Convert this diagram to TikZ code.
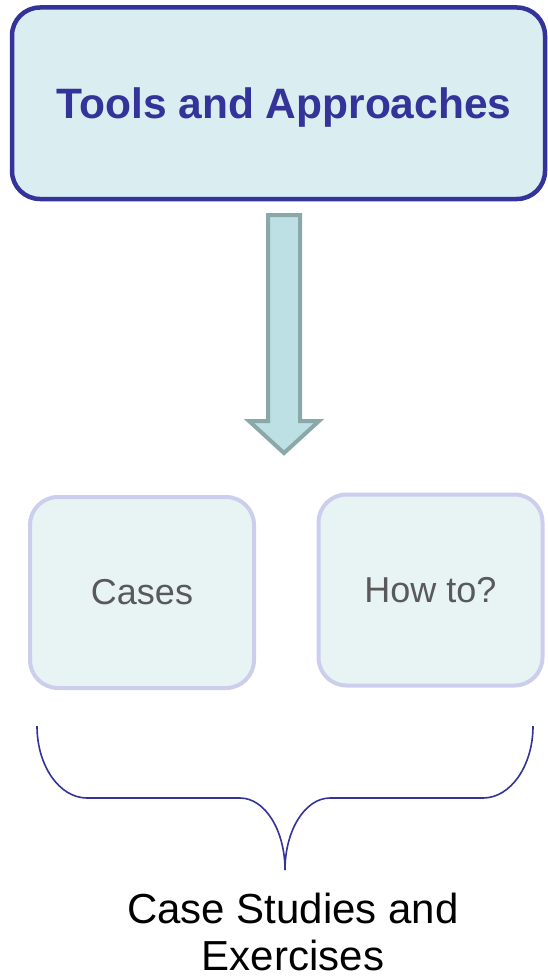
\documentclass[tikz,border=0pt]{standalone}
\usepackage{fontspec}
\setmainfont{Liberation Sans}
\definecolor{navy}{HTML}{333399}
\definecolor{topfill}{HTML}{DAEDF0}
\definecolor{arrowfill}{HTML}{BCE0E4}
\definecolor{arrowline}{HTML}{8BA8A8}
\definecolor{boxfill}{HTML}{E8F4F4}
\definecolor{boxline}{HTML}{CDCDEE}
\definecolor{graytext}{HTML}{595959}
\tikzset{
  topbox/.style={draw=navy, fill=topfill, line width=4.5pt, rounded corners=28pt,
    minimum width=533pt, minimum height=191.5pt, inner sep=0pt,
    font=\fontsize{42.5}{50}\selectfont\bfseries, text=navy, text depth=0pt},
  smallbox/.style={draw=boxline, fill=boxfill, line width=4pt, rounded corners=28pt,
    minimum width=224pt, minimum height=191pt, inner sep=0pt,
    font=\fontsize{36}{43}\selectfont, text=graytext},
  blockarrow/.style={draw=arrowline, fill=arrowfill, line width=4pt, line join=miter},
  bracepath/.style={draw=navy, line width=1.6pt},
  caption/.style={font=\fontsize{42}{48}\selectfont, text=black, align=center, inner sep=0pt}
}
\begin{document}
\begin{tikzpicture}[x=1pt, y=-1pt]
\useasboundingbox (0,0) rectangle (548,979);
\node[topbox] (tools) at (278.5,103.25) {\hspace*{11pt}Tools and Approaches};
\draw[blockarrow] (268,215) -- (300,215) -- (300,421) -- (319,421) -- (284,453)
  -- (249,421) -- (268,421) -- cycle;
\node[smallbox] (cases) at (142,592.5) {Cases};
\node[smallbox] (howto) at (430.5,590) {How to?};
\coordinate (bl) at (37,726);
\coordinate (br) at (533,726);
\coordinate (tip) at (285,870);
\draw[bracepath] (bl) .. controls (37,765.8) and (59.4,798) .. (87,798) -- (240,798)
  .. controls (264.9,798) and (285,830.2) .. (tip);
\draw[bracepath] (br) .. controls (533,765.8) and (510.6,798) .. (483,798) -- (330,798)
  .. controls (305.1,798) and (285,830.2) .. (tip);
\node[caption, anchor=base] (cap1) at (293,923) {Case Studies and};
\node[caption, anchor=base] (cap2) at (293,970) {Exercises};
\end{tikzpicture}
\end{document}
